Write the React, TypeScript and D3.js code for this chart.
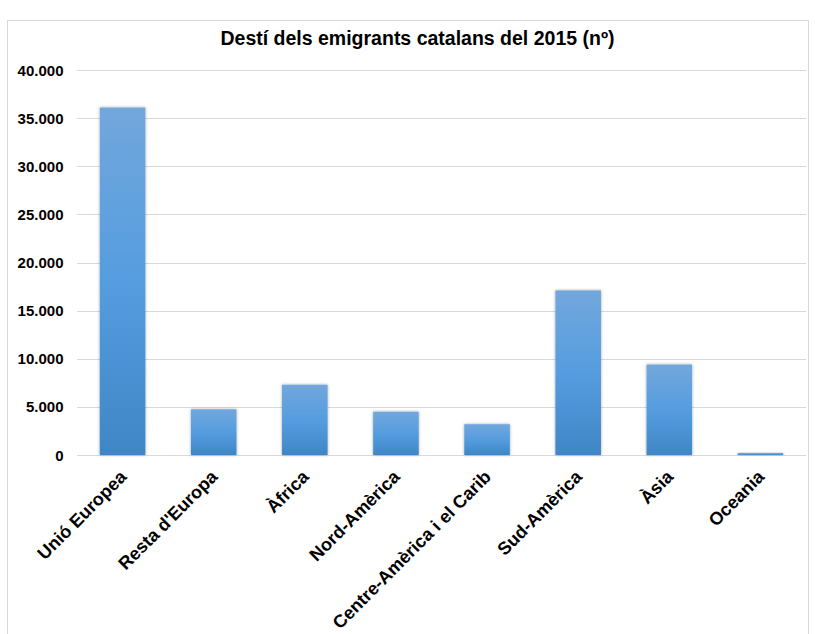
import React from "react";
import * as d3 from "d3";

const categories = ["Unió Europea", "Resta d'Europa", "Àfrica", "Nord-Amèrica", "Centre-Amèrica i el Carib", "Sud-Amèrica", "Àsia", "Oceania"];
const values = [36100, 4750, 7300, 4500, 3200, 17100, 9400, 200];
const yTicks = [0, 5000, 10000, 15000, 20000, 25000, 30000, 35000, 40000];
const title = "Destí dels emigrants catalans del 2015 (nº)";

const W = 815, H = 634;
const plot = { left: 77, right: 806, top: 70, bottom: 455 };
const font = "'Liberation Sans', Arial, sans-serif";

export default function App() {
  const x = d3.scaleBand<string>().domain(categories).range([plot.left, plot.right]).paddingInner(0.5).paddingOuter(0.25);
  const y = d3.scaleLinear().domain([0, 40000]).range([plot.bottom, plot.top]);
  const fmt = (v: number) => d3.format(",")(v).replace(/,/g, ".");
  return (
    <svg width={W} height={H} style={{ position: "absolute", left: 0, top: 0, background: "#fff" }}>
      <defs>
        <linearGradient id="barGrad" x1="0" y1="0" x2="0" y2="1">
          <stop offset="0%" stopColor="#72a7dc" />
          <stop offset="50%" stopColor="#559ddf" />
          <stop offset="100%" stopColor="#3f86c6" />
        </linearGradient>
        <filter id="sh" x="-20%" y="-20%" width="140%" height="140%">
          <feDropShadow dx="0" dy="0" stdDeviation="1.5" floodColor="#000" floodOpacity="0.35" />
        </filter>
      </defs>
      <rect x={7.5} y={20.5} width={801} height={640} fill="#fff" stroke="#d9d9d9" strokeWidth={1} />
      <text x={417.5} y={45} textAnchor="middle" fontFamily={font} fontWeight="bold" fontSize={19.5} fill="#000">{title}</text>
      {yTicks.map((t) => (
        <g key={t}>
          <line x1={plot.left} x2={plot.right} y1={Math.round(y(t)) + 0.5} y2={Math.round(y(t)) + 0.5} stroke="#d9d9d9" strokeWidth={1.2} />
          <text x={63.5} y={y(t) + 5.5} textAnchor="end" fontFamily={font} fontWeight="bold" fontSize={15} fill="#000">{fmt(t)}</text>
        </g>
      ))}
      {categories.map((c, i) => (
        <rect key={c} x={x(c)!} y={y(values[i])} width={x.bandwidth()} height={y(0) - y(values[i])} fill="url(#barGrad)" filter="url(#sh)" />
      ))}
      {categories.map((c) => {
        const cx = x(c)! + x.bandwidth() / 2 + 5;
        const cy = plot.bottom + 23;
        return (
          <text key={c} transform={`translate(${cx},${cy}) rotate(-45)`} textAnchor="end" fontFamily={font} fontWeight="bold" fontSize={18} fill="#000">{c}</text>
        );
      })}
    </svg>
  );
}
